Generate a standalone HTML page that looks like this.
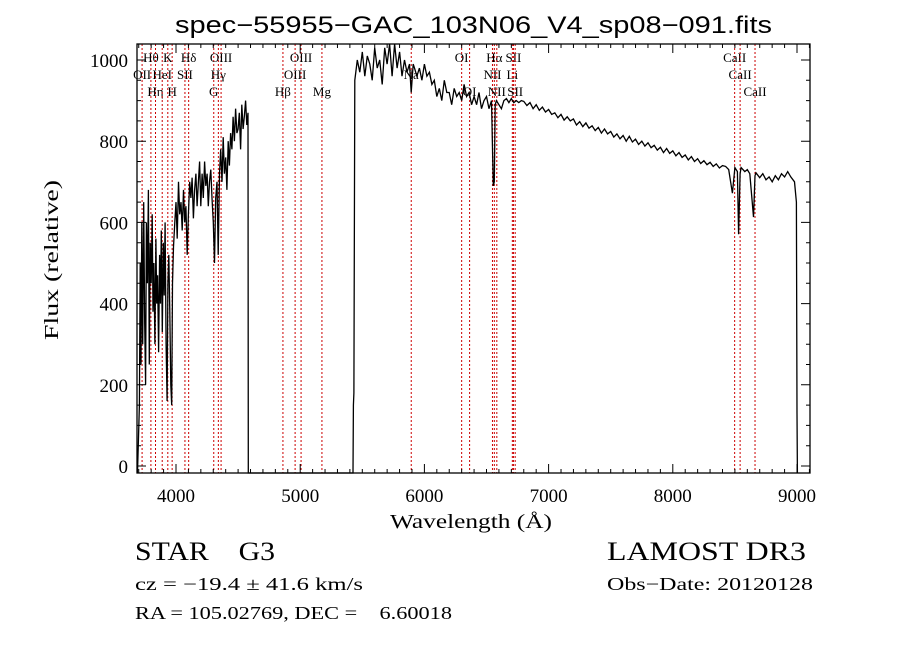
<!DOCTYPE html>
<html><head><meta charset="utf-8"><style>
html,body{margin:0;padding:0;background:#fff;}
svg{display:block;font-family:"Liberation Serif",serif;}
text{white-space:pre;}
</style></head><body>
<svg id="chart" width="900" height="649" viewBox="0 0 900 649" xmlns="http://www.w3.org/2000/svg" xml:space="preserve">
<rect width="900" height="649" fill="#fff"/>
<g id="lines-layer"></g>
<g id="spec-layer"></g>
<g id="axes-layer"></g>
<text x="175" y="33" font-size="24" textLength="597" lengthAdjust="spacingAndGlyphs" font-family="Liberation Sans, sans-serif">spec−55955−GAC_103N06_V4_sp08−091.fits</text>
<text x="390" y="528" font-size="20" textLength="162" lengthAdjust="spacingAndGlyphs">Wavelength (Å)</text>
<text transform="translate(58,340) rotate(-90)" font-size="20" textLength="160" lengthAdjust="spacingAndGlyphs">Flux (relative)</text>
<text x="135" y="560" font-size="26" textLength="140" lengthAdjust="spacingAndGlyphs">STAR    G3</text>
<text x="607" y="560" font-size="26" textLength="199" lengthAdjust="spacingAndGlyphs">LAMOST DR3</text>
<text x="135" y="590" font-size="18" textLength="228" lengthAdjust="spacingAndGlyphs">cz = −19.4 ± 41.6 km/s</text>
<text x="607" y="590" font-size="18" textLength="206" lengthAdjust="spacingAndGlyphs">Obs−Date: 20120128</text>
<text x="135" y="619" font-size="18" textLength="317" lengthAdjust="spacingAndGlyphs">RA = 105.02769, DEC =    6.60018</text>
</svg>
<script>
const wave = [3690,3705,3712,3718,3725,3732,3740,3748,3755,3762,3770,3778,3785,3792,3800,3808,3815,3822,3830,3838,3845,3852,3860,3868,3875,3882,3890,3898,3905,3912,3920,3928,3935,3942,3950,3958,3965,3972,3980,3990,4000,4010,4020,4030,4040,4050,4060,4070,4080,4090,4100,4110,4120,4130,4140,4150,4160,4170,4180,4190,4200,4210,4220,4230,4240,4250,4260,4270,4280,4290,4300,4310,4320,4330,4340,4350,4360,4370,4380,4390,4400,4410,4420,4430,4440,4450,4460,4470,4480,4490,4500,4510,4520,4530,4540,4550,4560,4570,4580,4582,5425,5428,5432,5440,5460,5480,5500,5520,5540,5560,5580,5600,5620,5640,5660,5680,5700,5720,5740,5760,5780,5800,5820,5840,5860,5880,5894,5910,5920,5940,5960,5980,6000,6020,6040,6060,6080,6100,6120,6140,6160,6180,6200,6220,6240,6260,6280,6300,6320,6340,6360,6380,6400,6420,6440,6460,6480,6500,6520,6540,6555,6563,6570,6580,6600,6620,6640,6660,6680,6700,6720,6740,6760,6780,6800,
6825,6850,6875,6900,6925,6950,6975,7000,7025,7050,
7075,7100,7125,7150,7175,7200,7225,7250,7275,7300,
7325,7350,7375,7400,7425,7450,7475,7500,7525,7550,
7575,7600,7625,7650,7675,7700,7725,7750,7775,7800,
7825,7850,7875,7900,7925,7950,7975,8000,8025,8050,
8075,8100,8125,8150,8175,8200,8225,8250,8275,8300,
8325,8350,8375,8400,8425,
8450,8480,8500,8520,8530,8542,8550,8580,8600,8620,8650,8662,8670,8700,8725,8750,8775,8800,8825,8850,8875,8900,8925,8950,8980,8995,9000,9003,9006];
const flux = [-20,150,500,250,600,300,650,350,200,600,450,680,250,550,450,620,380,500,300,560,400,470,280,520,400,580,330,550,420,600,300,160,450,520,380,200,150,450,540,600,650,560,700,620,650,580,680,600,640,520,620,700,660,710,610,680,720,640,700,750,640,720,660,750,690,720,640,700,730,660,600,500,660,700,520,720,780,700,810,720,760,680,800,740,820,780,860,800,880,820,830,870,780,890,830,860,900,840,870,-20,-20,150,180,950,1000,970,1020,960,1010,990,950,1030,980,1000,940,1030,990,1050,960,1040,980,1020,960,1000,970,990,920,990,980,960,980,950,990,960,970,940,950,910,930,900,950,920,920,890,930,910,920,900,940,910,920,890,910,890,920,880,900,910,880,900,690,700,890,900,890,880,900,905,895,905,895,900,895,900,
898,888,895,880,890,876,884,872,878,866,
870,858,866,852,860,850,855,840,848,836,
845,832,838,826,834,820,830,818,824,810,
818,806,814,800,812,798,805,792,800,788,
796,784,790,778,785,772,782,770,776,764,
772,760,766,754,762,750,757,745,752,742,
748,738,744,734,740,
738,730,672,735,725,571,720,735,725,730,720,613,715,722,710,720,705,712,700,715,705,720,712,725,712,700,650,130,-20];
const lineWave = [3727,3798,3835,3889,3934,3969,4072,4102,4304,4341,4363,4861,4959,5007,5175,5894,6300,6364,6548,6563,6583,6708,6717,6731,8498,8542,8662];
const lineLabel = ["OII","Hθ","Hη","HeI","K","H","SII","Hδ","G","Hγ","OIII","Hβ","OIII","OIII","Mg","Na","OI","OI","NII","Hα","NII","Li","SII","SII","CaII","CaII","CaII"];
const lineRow = [2,1,3,2,1,3,2,1,3,2,1,3,2,1,3,2,1,3,2,1,3,2,1,3,1,2,3];
const xTicks = [4000,5000,6000,7000,8000,9000];
const yTicks = [0,200,400,600,800,1000];

const L=137,R=810,T=44,B=473;
const X = w => 176 + (w-4000)*0.1242;
const Y = f => 466 - f*0.406;
const NS="http://www.w3.org/2000/svg";
function mk(tag, parent){const e=document.createElementNS(NS,tag);parent.appendChild(e);return e;}

const lg=document.getElementById('lines-layer');
lineWave.forEach((w,i)=>{
  const l=mk('line',lg);
  
  
  l.setAttribute('x1',X(w));l.setAttribute('x2',X(w));l.setAttribute('y1',T);l.setAttribute('y2',B);
  l.setAttribute('stroke','#c00');l.setAttribute('stroke-width','1');l.setAttribute('stroke-dasharray','2,2');
  const t=mk('text',lg);
  
  
  t.setAttribute('x',X(w));t.setAttribute('y',62+(lineRow[i]-1)*17);
  t.setAttribute('text-anchor','middle');t.setAttribute('font-size','13');
  t.textContent=lineLabel[i];
});

const sg=document.getElementById('spec-layer');
const p=mk('polyline',sg);


const n=Math.min(wave.length,flux.length);
const pts=[];
for(let i=0;i<n;i++){pts.push(X(wave[i]).toFixed(1)+','+Math.max(T,Math.min(B,Y(flux[i]))).toFixed(1));}
p.setAttribute('points',pts.join(' '));
p.setAttribute('fill','none');p.setAttribute('stroke','#000');p.setAttribute('stroke-width','1.3');

const ag=document.getElementById('axes-layer');
const fr=mk('rect',ag);


fr.setAttribute('x',L);fr.setAttribute('y',T);fr.setAttribute('width',R-L);fr.setAttribute('height',B-T);
fr.setAttribute('fill','none');fr.setAttribute('stroke','#000');fr.setAttribute('stroke-width','1.3');
let d='';
for(let w=3700;w<=9100;w+=100){const x=X(w);if(x<L||x>R)continue;const len=(w%1000===0)?9:4;d+=`M${x},${B}v-${len}M${x},${T}v${len}`;}
for(let f=0;f<=1000;f+=50){const y=Y(f);const len=(f%200===0)?9:4;d+=`M${L},${y}h${len}M${R},${y}h-${len}`;}
const tk=mk('path',ag);


tk.setAttribute('d',d);tk.setAttribute('stroke','#000');tk.setAttribute('stroke-width','1');
xTicks.forEach(w=>{const t=mk('text',ag);
  
  
  t.setAttribute('x',X(w));t.setAttribute('y',502);t.setAttribute('text-anchor','middle');t.setAttribute('font-size','19');t.textContent=w;});
yTicks.forEach(f=>{const t=mk('text',ag);
  
  
  t.setAttribute('x',128);t.setAttribute('y',Y(f)+7);t.setAttribute('text-anchor','end');t.setAttribute('font-size','19');t.textContent=f;});
</script>
</body></html>
